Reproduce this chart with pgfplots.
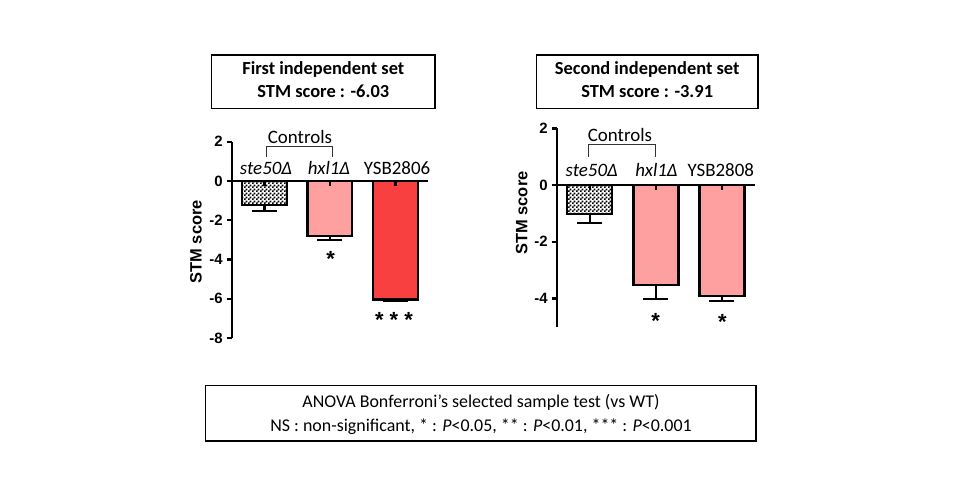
\documentclass[border=0pt]{standalone}
\usepackage{fontspec}
\setmainfont{Carlito}
\newfontfamily\arialf{Liberation Sans}
\usepackage{pgfplots}
\pgfplotsset{compat=1.18}
\usetikzlibrary{patterns}
\pgfdeclarepatternformonly{finecheck}{\pgfqpoint{0bp}{0bp}}{\pgfqpoint{4bp}{4bp}}{\pgfqpoint{4bp}{4bp}}{%
  \pgfpathrectangle{\pgfqpoint{0bp}{0bp}}{\pgfqpoint{2bp}{2bp}}%
  \pgfpathrectangle{\pgfqpoint{2bp}{2bp}}{\pgfqpoint{2bp}{2bp}}%
  \pgfusepath{fill}}
\definecolor{pinkbar}{RGB}{255,160,160}
\definecolor{redbar}{RGB}{248,64,64}
\pgfplotsset{stm/.style={
  scale only axis, clip=false, axis on top,
  xmin=-0.5, xmax=2.5,
  axis x line=middle, axis y line=left,
  axis line style={line width=2.4bp, -},
  xtick={0,1,2}, xticklabels={,,},
  xtick align=outside, ytick align=outside,
  major tick length=5bp,
  every tick/.style={line width=2.4bp, black},
  tick label style={font=\arialf\bfseries\fontsize{15}{16}\selectfont},
  yticklabel style={xshift=-0.5bp},
  ybar, bar width=0.68,
  every axis plot/.append style={bar shift=0pt, draw=black, line width=2.4bp},
  error bars/y dir=minus, error bars/y explicit,
  error bars/error bar style={line width=2.4bp, black},
  error bars/error mark options={rotate=90, mark size=12.5bp, line width=2.4bp, black},
}}
\begin{document}
\begin{tikzpicture}
\path[use as bounding box] (0,0) rectangle (960bp,-500bp);
% ---------- left chart ----------
\begin{axis}[stm, at={(231.7bp,-338bp)}, anchor=south west,
  width=196.5bp, height=196.3bp, ymin=-8, ymax=2,
  ytick={-8,-6,-4,-2,0,2}, yticklabels={-8,-6,-4,-2,0,2}]
\addplot[fill=white, postaction={pattern=finecheck}] coordinates {(0,-1.22) -= (0,0.30)};
\addplot[fill=pinkbar] coordinates {(1,-2.79) -= (0,0.22)};
\addplot[fill=redbar] coordinates {(2,-6.03) -= (0,0.06)};
\end{axis}
% ---------- right chart ----------
\begin{axis}[stm, at={(556.7bp,-326.75bp)}, anchor=south west,
  width=198.3bp, height=198.45bp, ymin=-5, ymax=2,
  ytick={-4,-2,0,2}, yticklabels={-4,-2,0,2}]
\addplot[fill=white, postaction={pattern=finecheck}] coordinates {(0,-1.02) -= (0,0.33)};
\addplot[fill=pinkbar] coordinates {(1,-3.53) -= (0,0.49)};
\addplot[fill=pinkbar] coordinates {(2,-3.91) -= (0,0.18)};
\end{axis}
% y labels
\node[rotate=90, font=\arialf\bfseries\fontsize{16.5}{18}\selectfont] at (196bp,-241.7bp) {STM score};
\node[rotate=90, font=\arialf\bfseries\fontsize{16.5}{18}\selectfont] at (521.7bp,-213bp) {STM score};
% category labels
\begin{scope}[every node/.style={anchor=base, inner sep=0pt, font=\fontsize{19}{20}\selectfont}]
\node at (266bp,-174bp) {\itshape ste50Δ};
\node at (329bp,-174bp) {\itshape hxl1Δ};
\node at (397bp,-174bp) {YSB2806};
\node at (300bp,-143.3bp) {Controls};
\node at (591.7bp,-176bp) {\itshape ste50Δ};
\node at (656.5bp,-176bp) {\itshape hxl1Δ};
\node at (720.8bp,-176bp) {YSB2808};
\node at (620bp,-141.7bp) {Controls};
\end{scope}
% brackets
\draw[line width=1bp, black!80] (266bp,-157bp) -- (266bp,-146bp) -- (332bp,-146bp) -- (332bp,-157bp);
\draw[line width=1bp, black!80] (588bp,-157bp) -- (588bp,-144bp) -- (655.7bp,-144bp) -- (655.7bp,-157bp);
% asterisks
\begin{scope}[every node/.style={anchor=base, inner sep=0pt, font=\arialf\bfseries\fontsize{22}{24}\selectfont}]
\node at (330.7bp,-266bp) {*};
\node at (394bp,-327.5bp) {* * *};
\node at (655.7bp,-328bp) {*};
\node at (722.3bp,-329bp) {*};
\end{scope}
% title boxes
\draw[line width=1.3bp] (211.7bp,-55bp) rectangle (435bp,-108.3bp);
\draw[line width=1.3bp] (536.5bp,-55bp) rectangle (758bp,-108.3bp);
\node[anchor=base, inner sep=0pt, font=\bfseries\fontsize{18.5}{20}\selectfont] at (323.3bp,-74.3bp) {First independent set};
\node[anchor=base, inner sep=0pt, font=\bfseries\fontsize{18.5}{20}\selectfont] at (323.3bp,-97.3bp) {STM score : -6.03};
\node[anchor=base, inner sep=0pt, font=\bfseries\fontsize{18.5}{20}\selectfont] at (647.2bp,-74.3bp) {Second independent set};
\node[anchor=base, inner sep=0pt, font=\bfseries\fontsize{18.5}{20}\selectfont] at (647.2bp,-97.3bp) {STM score : -3.91};
% bottom box
\draw[line width=1.3bp] (205.7bp,-385.7bp) rectangle (756bp,-441bp);
\node[anchor=base, inner sep=0pt, font=\fontsize{18}{20}\selectfont] at (481bp,-407.3bp) {ANOVA Bonferroni’s selected sample test (vs WT)};
\node[anchor=base, inner sep=0pt, font=\fontsize{18}{20}\selectfont] at (481bp,-431bp) {NS : non-significant, * : \textit{P}<0.05, ** : \textit{P}<0.01, *** : \textit{P}<0.001};
\end{tikzpicture}
\end{document}
